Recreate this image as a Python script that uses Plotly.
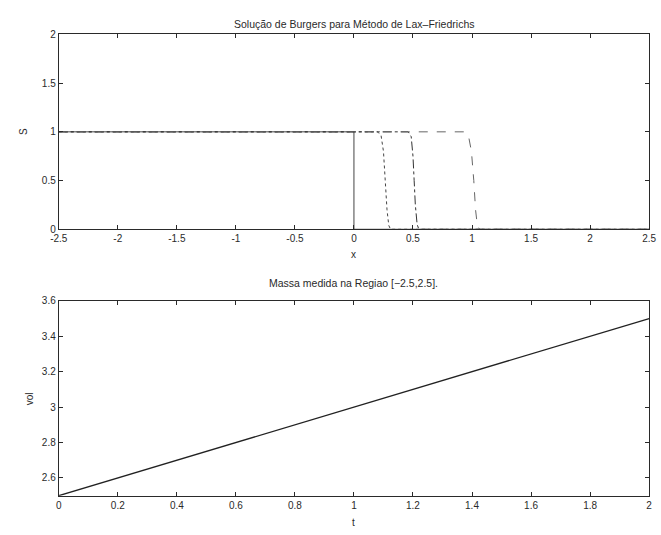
import plotly.graph_objects as go

# ---- data ----
x_t0 = [-2.5, 0.0, 0.0, 2.5]
s_t0 = [1, 1, 0, 0]

x_t05 = [-2.5, 0.20, 0.23, 0.25, 0.265, 0.28, 0.295, 0.31, 2.5]
s_t05 = [1, 1, 0.96, 0.80, 0.50, 0.20, 0.04, 0, 0]

x_t1 = [-2.5, 0.46, 0.485, 0.50, 0.51, 0.52, 0.535, 0.55, 2.5]
s_t1 = [1, 1, 0.95, 0.75, 0.50, 0.25, 0.05, 0, 0]

x_t2 = [-2.5, 0.93, 0.97, 0.995, 1.015, 1.03, 1.045, 1.065, 2.5]
s_t2 = [1, 1, 0.96, 0.80, 0.50, 0.20, 0.04, 0, 0]

t_vals = [0, 0.5, 1.0, 1.5, 2.0]
vol_vals = [2.5, 2.75, 3.0, 3.25, 3.5]

top_xticks = [-2.5, -2, -1.5, -1, -0.5, 0, 0.5, 1, 1.5, 2, 2.5]
top_xlabels = ["-2.5", "-2", "-1.5", "-1", "-0.5", "0", "0.5", "1", "1.5", "2", "2.5"]
top_yticks = [0, 0.5, 1, 1.5, 2]
top_ylabels = ["0", "0.5", "1", "1.5", "2"]
bot_xticks = [0, 0.2, 0.4, 0.6, 0.8, 1, 1.2, 1.4, 1.6, 1.8, 2]
bot_xlabels = ["0", "0.2", "0.4", "0.6", "0.8", "1", "1.2", "1.4", "1.6", "1.8", "2"]
bot_yticks = [2.6, 2.8, 3.0, 3.2, 3.4, 3.6]
bot_ylabels = ["2.6", "2.8", "3", "3.2", "3.4", "3.6"]

W, H = 661, 535
INK = "#2a2a2a"
FONT = "Liberation Sans, Arial, sans-serif"

fig = go.Figure()
fig.add_trace(go.Scatter(x=x_t0, y=s_t0, mode="lines", line=dict(color="#444", width=1, dash="solid"),
                         xaxis="x", yaxis="y"))
fig.add_trace(go.Scatter(x=x_t05, y=s_t05, mode="lines", line=dict(color="#444", width=1, dash="dot"),
                         xaxis="x", yaxis="y"))
fig.add_trace(go.Scatter(x=x_t1, y=s_t1, mode="lines", line=dict(color="#333", width=1, dash="dashdot"),
                         xaxis="x", yaxis="y"))
fig.add_trace(go.Scatter(x=x_t2, y=s_t2, mode="lines", line=dict(color="#666", width=1, dash="dash"),
                         xaxis="x", yaxis="y"))
fig.add_trace(go.Scatter(x=t_vals, y=vol_vals, mode="lines", line=dict(color="#222", width=1.3),
                         xaxis="x2", yaxis="y2"))

x0, x1 = 51, 656
top_t, top_b = 30, 229
bot_t, bot_b = 302, 501

def px(v):
    return v / W

def py(v):
    return 1 - v / H

axis_common = dict(showline=True, linecolor=INK, linewidth=1, mirror="ticks", ticks="inside",
                   ticklen=4, tickcolor=INK, showgrid=False, zeroline=False,
                   tickfont=dict(family=FONT, size=10, color=INK))

fig.update_layout(
    width=W, height=H, margin=dict(l=0, r=0, t=0, b=0),
    paper_bgcolor="white", plot_bgcolor="white", showlegend=False,
    xaxis=dict(domain=[px(x0), px(x1)], range=[-2.5, 2.5], tickvals=top_xticks, ticktext=top_xlabels,
               anchor="y", **axis_common),
    yaxis=dict(domain=[py(top_b), py(top_t)], range=[0, 2], tickvals=top_yticks, ticktext=top_ylabels,
               anchor="x", **axis_common),
    xaxis2=dict(domain=[px(x0), px(x1)], range=[0, 2], tickvals=bot_xticks, ticktext=bot_xlabels,
                anchor="y2", **axis_common),
    yaxis2=dict(domain=[py(bot_b), py(bot_t)], range=[2.5, 3.6], tickvals=bot_yticks, ticktext=bot_ylabels,
                anchor="x2", **axis_common),
)

def ann(text, x, y, size=10, angle=0):
    fig.add_annotation(text=text, x=px(x), y=py(y), xref="paper", yref="paper", showarrow=False,
                       xanchor="center", yanchor="middle", textangle=angle,
                       font=dict(family=FONT, size=size, color=INK))

ann("Solução de Burgers para Método de Lax\u2013Friedrichs", (x0 + x1) / 2, 19, size=10.5)
ann("x", (x0 + x1) / 2, 255)
ann("S", 15, 129, angle=-90)
ann("Massa medida na Regiao [\u22122.5,2.5].", (x0 + x1) / 2, 284, size=10.5)
ann("t", (x0 + x1) / 2, 528)
ann("vol", 21, 402, angle=-90)

fig.write_html("out.html")
